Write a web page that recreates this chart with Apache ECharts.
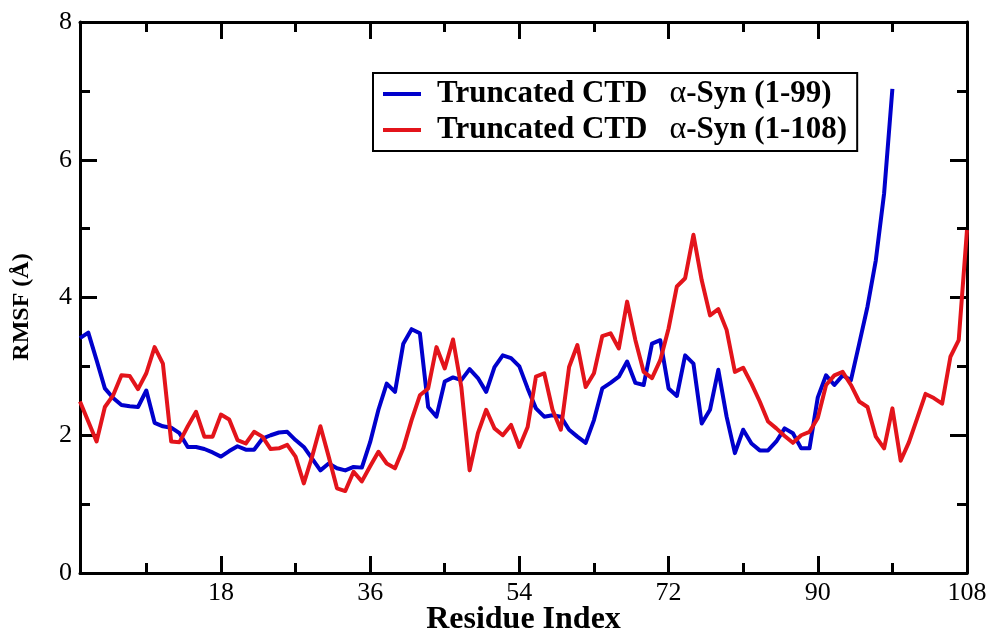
<!DOCTYPE html>
<html>
<head>
<meta charset="utf-8">
<script src="https://cdn.jsdelivr.net/npm/echarts@6/dist/echarts.min.js"></script>
<style>
  html, body { margin: 0; padding: 0; background: #fff; }
  #chart { width: 995px; height: 631px; }
</style>
</head>
<body>
<div id="chart"></div>
<script>
// RMSF per residue for the two truncated alpha-synuclein constructs
const residuesShort = Array.from({length: 99}, (_, i) => i + 1);
const residuesLong = Array.from({length: 108}, (_, i) => i + 1);

const rmsf1to99 = [
  3.41, 3.49, 3.09, 2.68, 2.54, 2.44, 2.42, 2.41, 2.65, 2.18,
  2.13, 2.11, 2.03, 1.83, 1.83, 1.80, 1.75, 1.69, 1.77, 1.84,
  1.79, 1.79, 1.95, 2.00, 2.04, 2.05, 1.93, 1.83, 1.66, 1.49,
  1.59, 1.52, 1.49, 1.54, 1.53, 1.90, 2.37, 2.75, 2.63, 3.33,
  3.54, 3.48, 2.41, 2.27, 2.78, 2.84, 2.80, 2.96, 2.83, 2.63,
  2.99, 3.16, 3.12, 3.00, 2.68, 2.39, 2.27, 2.29, 2.27, 2.08,
  1.98, 1.89, 2.22, 2.68, 2.76, 2.85, 3.07, 2.76, 2.73, 3.33,
  3.38, 2.68, 2.57, 3.16, 3.04, 2.17, 2.37, 2.95, 2.27, 1.74,
  2.08, 1.88, 1.78, 1.78, 1.91, 2.10, 2.03, 1.81, 1.81, 2.55,
  2.87, 2.73, 2.87, 2.80, 3.33, 3.87, 4.54, 5.51, 7.03
];

const rmsf1to108 = [
  2.49, 2.20, 1.91, 2.41, 2.58, 2.87, 2.86, 2.67, 2.90, 3.28,
  3.04, 1.91, 1.90, 2.13, 2.34, 1.98, 1.98, 2.30, 2.23, 1.93,
  1.88, 2.05, 1.98, 1.80, 1.81, 1.86, 1.69, 1.30, 1.69, 2.13,
  1.69, 1.23, 1.19, 1.47, 1.33, 1.55, 1.76, 1.59, 1.52, 1.81,
  2.22, 2.58, 2.68, 3.28, 2.97, 3.39, 2.70, 1.49, 2.03, 2.37,
  2.10, 2.00, 2.15, 1.83, 2.12, 2.85, 2.90, 2.37, 2.08, 2.99,
  3.31, 2.70, 2.90, 3.44, 3.48, 3.26, 3.94, 3.38, 2.92, 2.83,
  3.09, 3.55, 4.16, 4.28, 4.91, 4.25, 3.74, 3.83, 3.53, 2.92,
  2.98, 2.75, 2.49, 2.20, 2.10, 1.99, 1.89, 2.00, 2.05, 2.25,
  2.73, 2.87, 2.92, 2.73, 2.49, 2.41, 1.98, 1.81, 2.39, 1.63,
  1.90, 2.25, 2.60, 2.54, 2.46, 3.14, 3.38, 4.98
];

const xMajorTicks = [18, 36, 54, 72, 90, 108];
const xMinorTicks = [9, 27, 45, 63, 81, 99];
const seriesNames = ['Truncated CTD  α-Syn (1-99)', 'Truncated CTD  α-Syn (1-108)'];
const yTitle = 'RMSF (Å)';
const xTitle = 'Residue Index';

const SERIF = '"Liberation Serif", "DejaVu Serif", serif';
const INK = '#000';
const AXIS_W = 3;

function xAxisDef(position, ticks, len, showLine, showLabels, extra) {
  return Object.assign({
    type: 'value', position: position, min: 1, max: 108,
    axisLine: { show: showLine, onZero: false, lineStyle: { color: INK, width: AXIS_W } },
    axisTick: { show: true, inside: true, length: len, customValues: ticks,
                lineStyle: { color: INK, width: AXIS_W } },
    axisLabel: { show: showLabels, customValues: ticks, margin: 7,
                 fontFamily: SERIF, fontSize: 26, color: INK },
    splitLine: { show: false }
  }, extra || {});
}

function yAxisDef(position, showLabels) {
  return {
    type: 'value', position: position, min: 0, max: 8, interval: 2,
    axisLine: { show: true, onZero: false, lineStyle: { color: INK, width: AXIS_W } },
    axisTick: { show: true, inside: true, length: 17, lineStyle: { color: INK, width: AXIS_W } },
    minorTick: { show: true, splitNumber: 2, length: 10, lineStyle: { color: INK, width: AXIS_W } },
    axisLabel: { show: showLabels, margin: 8, fontFamily: SERIF, fontSize: 26, color: INK },
    splitLine: { show: false },
    minorSplitLine: { show: false }
  };
}

const chart = echarts.init(document.getElementById('chart'), null, { renderer: 'canvas' });

chart.setOption({
  backgroundColor: '#fff',
  animation: false,
  grid: { left: 80, right: 28, top: 22, bottom: 58, containLabel: false, outerBoundsMode: 'none' },
  legend: {
    data: seriesNames,
    orient: 'vertical',
    left: 373, top: 73,
    padding: [5, 10, 5, 10],
    itemGap: 4,
    itemWidth: 38, itemHeight: 4,
    icon: 'rect',
    backgroundColor: '#fff',
    borderColor: INK, borderWidth: 2, borderRadius: 0,
    formatter: function (name) {
      const parts = name.split('α');
      return '{b|' + parts[0].trim() + '}{a|α}{b|' + parts[1] + '}';
    },
    textStyle: {
      padding: [0, 0, 0, 11],
      rich: {
        b: { fontFamily: SERIF, fontWeight: 'bold', fontSize: 31, color: INK },
        a: { fontFamily: SERIF, fontWeight: 'normal', fontSize: 32, color: INK, padding: [0, 0, 0, 22] }
      }
    }
  },
  graphic: [{
    type: 'text',
    x: 22, y: 307,
    rotation: Math.PI / 2,
    style: {
      text: yTitle, fontFamily: SERIF, fontWeight: 'bold', fontSize: 24, fill: INK,
      align: 'center', verticalAlign: 'middle'
    }
  }],
  xAxis: [
    xAxisDef('bottom', xMajorTicks, 17, true, true, {
      name: xTitle, nameLocation: 'middle', nameGap: 31, nameMoveOverlap: false,
      nameTextStyle: { fontFamily: SERIF, fontWeight: 'bold', fontSize: 32, color: INK }
    }),
    xAxisDef('bottom', xMinorTicks, 10, false, false),
    xAxisDef('top', xMajorTicks, 17, true, false),
    xAxisDef('top', xMinorTicks, 10, false, false)
  ],
  yAxis: [
    yAxisDef('left', true),
    yAxisDef('right', false)
  ],
  series: [
    {
      name: seriesNames[0], type: 'line', xAxisIndex: 0, yAxisIndex: 0,
      data: residuesShort.map((r, i) => [r, rmsf1to99[i]]),
      showSymbol: false, symbol: 'none',
      lineStyle: { color: '#0000cc', width: 4, join: 'round' },
      itemStyle: { color: '#0000cc' }
    },
    {
      name: seriesNames[1], type: 'line', xAxisIndex: 0, yAxisIndex: 0,
      data: residuesLong.map((r, i) => [r, rmsf1to108[i]]),
      showSymbol: false, symbol: 'none',
      lineStyle: { color: '#e3141b', width: 4, join: 'round' },
      itemStyle: { color: '#e3141b' }
    }
  ]
});
</script>
</body>
</html>
